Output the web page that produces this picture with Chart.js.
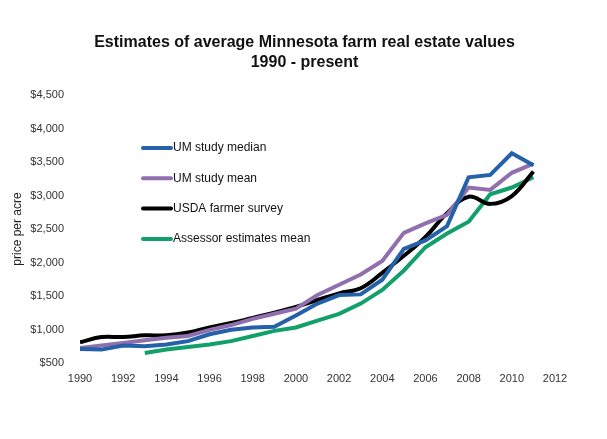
<!DOCTYPE html>
<html>
<head>
<meta charset="utf-8">
<script src="https://cdn.jsdelivr.net/npm/chart.js@4.4.1/dist/chart.umd.min.js"></script>
<style>
  html, body { margin: 0; padding: 0; background: #fff; }
  #wrap { width: 607px; height: 439px; position: relative; }
</style>
</head>
<body>
<div id="wrap"><canvas id="farm-chart"></canvas></div>
<script>
const years = [1990, 1991, 1992, 1993, 1994, 1995, 1996, 1997, 1998, 1999, 2000,
    2001, 2002, 2003, 2004, 2005, 2006, 2007, 2008, 2009, 2010, 2011];
const umMedian = [710, 700, 760, 750, 775, 826, 929, 995, 1030, 1040, 1208,
    1387, 1514, 1524, 1743, 2202, 2330, 2544, 3272, 3308, 3630, 3451];
const umMean = [725, 760, 800, 840, 878, 903, 995, 1066, 1158, 1235, 1310,
    1515, 1667, 1820, 2024, 2442, 2584, 2712, 3119, 3084, 3339, 3476];
const usdaSurvey = [810, 887, 887, 913, 913, 954, 1030, 1096, 1173, 1250, 1337,
    1440, 1540, 1616, 1845, 2100, 2380, 2737, 2982, 2875, 2992, 3359];
const assessorMean = [null, null, null, 648, 700, 740, 775, 826, 903, 980, 1030,
    1133, 1234, 1387, 1590, 1881, 2228, 2432, 2610, 3018, 3119, 3272];
const yearTicks = [1990, 1992, 1994, 1996, 1998, 2000, 2002, 2004, 2006, 2008, 2010, 2012];
const priceTicks = [500, 1000, 1500, 2000, 2500, 3000, 3500, 4000, 4500];
const titleLines = ['Estimates of average Minnesota farm real estate values', '1990 - present'];

const toPoints = (values) => years.map((yr, i) => ({ x: yr, y: values[i] }));

const series = (label, values, color, tension) => ({
    label,
    data: toPoints(values),
    borderColor: color,
    backgroundColor: color,
    borderWidth: 4,
    pointRadius: 0,
    tension,
    spanGaps: false,
});

// title centred on the whole canvas, legend sitting inside the plot
const sheetDecor = {
    id: 'sheetDecor',
    afterDraw(chart) {
        const { ctx, width } = chart;
        ctx.save();
        ctx.fillStyle = '#111';
        ctx.textAlign = 'center';
        ctx.textBaseline = 'middle';
        ctx.font = 'bold 16px "Liberation Sans", Arial, sans-serif';
        titleLines.forEach((line, i) => ctx.fillText(line, width / 2 + 1, 43 + i * 20));

        ctx.font = '12px "Liberation Sans", Arial, sans-serif';
        ctx.textAlign = 'left';
        chart.data.datasets.forEach((ds, i) => {
            const y = 148 + i * 30.3;
            ctx.strokeStyle = ds.borderColor;
            ctx.lineWidth = 4;
            ctx.lineCap = 'round';
            ctx.beginPath();
            ctx.moveTo(143, y);
            ctx.lineTo(171, y);
            ctx.stroke();
            ctx.fillStyle = '#111';
            ctx.fillText(ds.label, 173, y);
        });
        ctx.restore();
    },
};

const tickFont = { family: '"Liberation Sans", Arial, sans-serif', size: 11 };

new Chart(document.getElementById('farm-chart'), {
    type: 'line',
    data: {
        datasets: [
            series('UM study median', umMedian, '#2461a8', 0),
            series('UM study mean', umMean, '#8f6fae', 0),
            series('USDA farmer survey', usdaSurvey, '#000000', 0.4),
            series('Assessor estimates mean', assessorMean, '#12a06a', 0),
        ],
    },
    options: {
        responsive: true,
        maintainAspectRatio: false,
        animation: false,
        layout: { padding: { top: 95, right: 52, bottom: 51, left: 0 } },
        plugins: {
            legend: { display: false },
            title: { display: false },
            tooltip: { enabled: false },
        },
        scales: {
            x: {
                type: 'linear',
                min: 1990,
                max: 2012,
                grid: { display: false },
                border: { display: false },
                afterBuildTicks: (scale) => { scale.ticks = yearTicks.map((v) => ({ value: v })); },
                afterFit: (scale) => { scale.height = 25; },
                ticks: {
                    color: '#333',
                    font: tickFont,
                    padding: 1,
                    maxRotation: 0,
                    callback: (v) => String(v),
                },
            },
            y: {
                min: 500,
                max: 4500,
                grid: { display: false },
                border: { display: false },
                afterBuildTicks: (scale) => { scale.ticks = priceTicks.map((v) => ({ value: v })); },
                afterFit: (scale) => { scale.width = 80; },
                title: {
                    display: true,
                    text: 'price per acre',
                    color: '#222',
                    font: { family: '"Liberation Sans", Arial, sans-serif', size: 12 },
                    padding: { top: 10, bottom: 0 },
                },
                ticks: {
                    color: '#333',
                    font: tickFont,
                    padding: 8,
                    callback: (v) => '$' + v.toLocaleString('en-US'),
                },
            },
        },
    },
    plugins: [sheetDecor],
});
</script>
</body>
</html>
